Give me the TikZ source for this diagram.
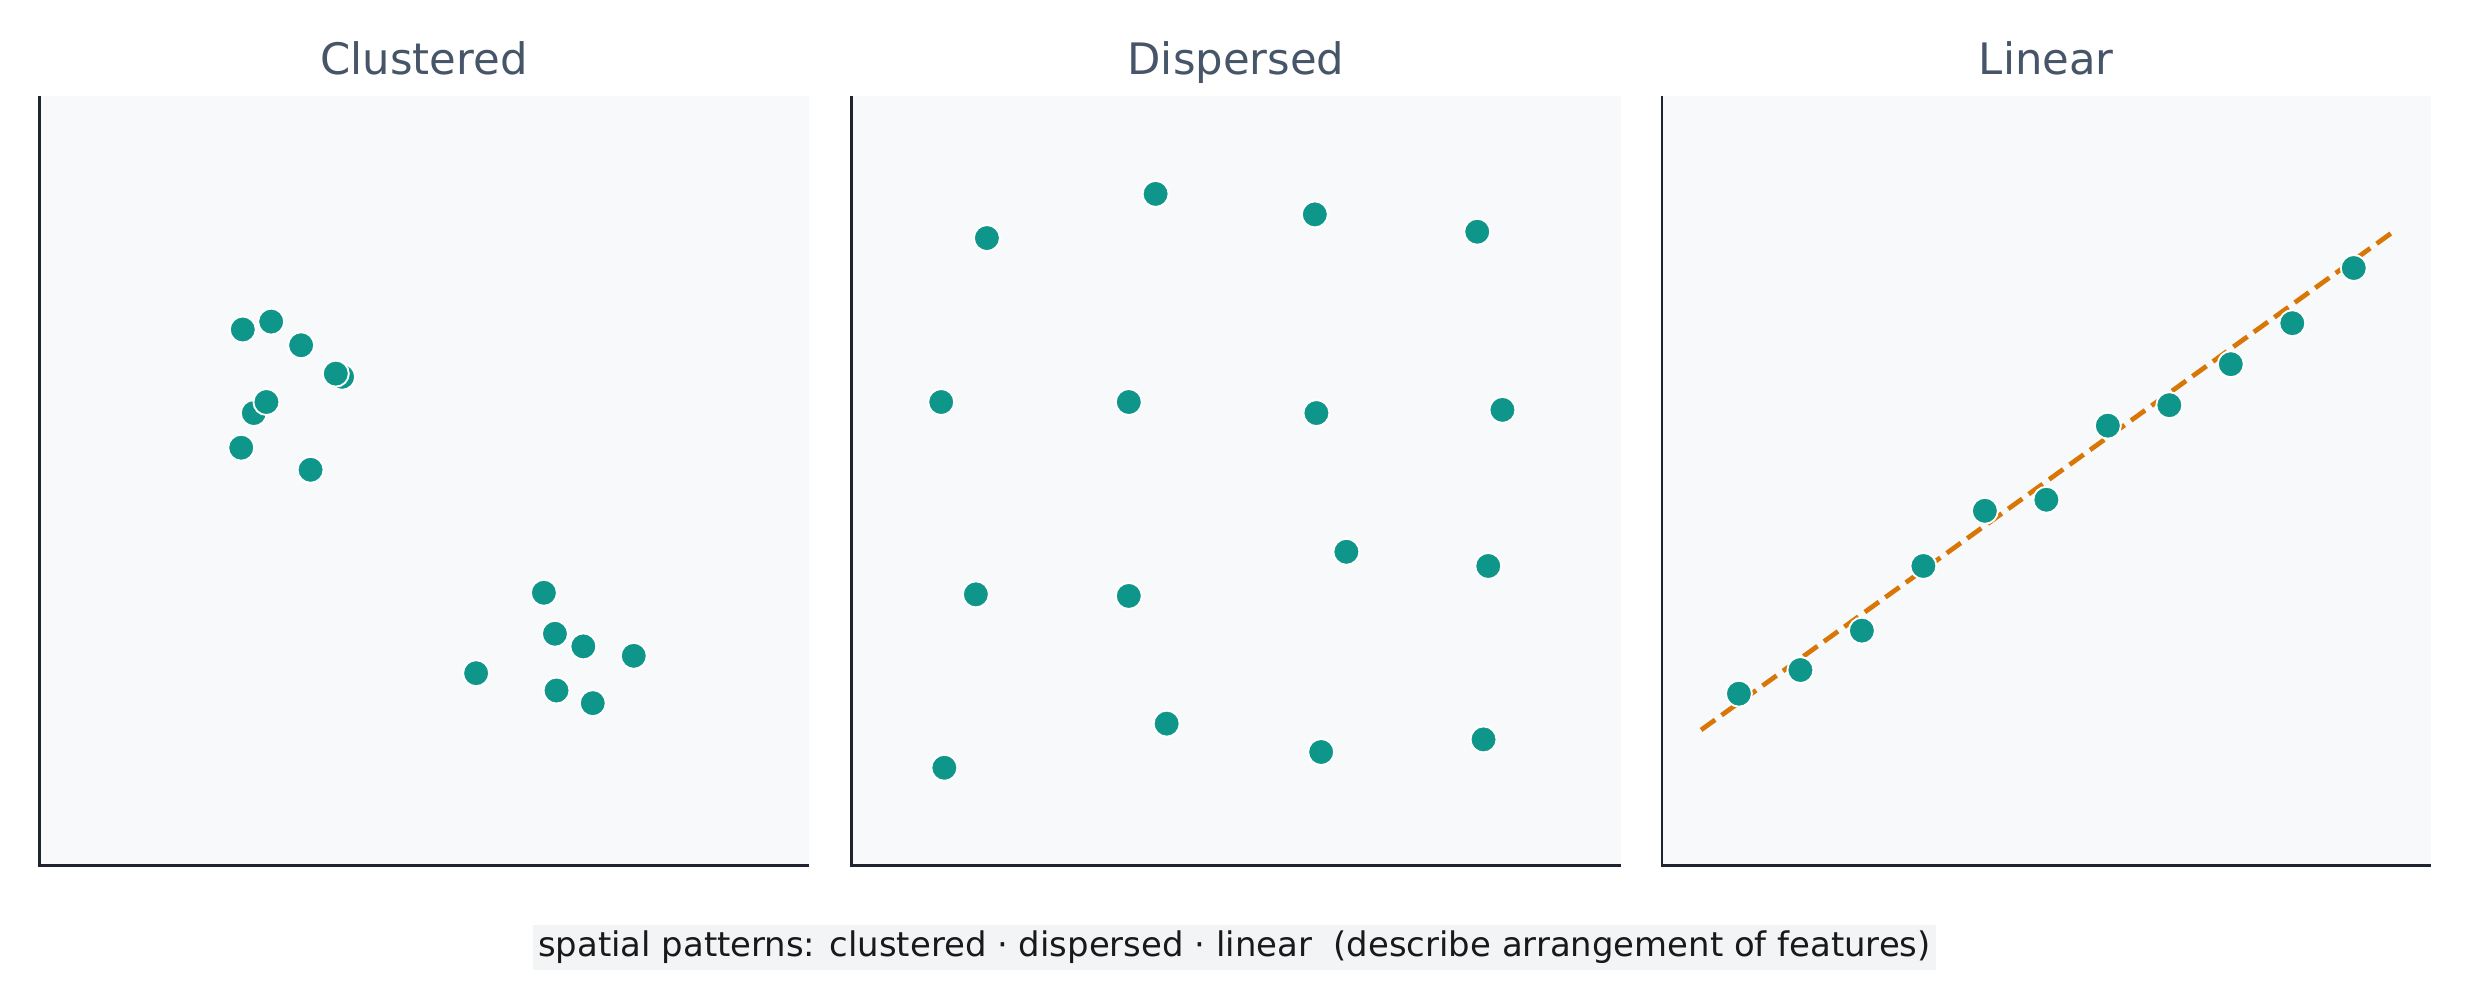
\documentclass[tikz,border=0pt]{standalone}
\usepackage{fontspec}
\setmainfont{DejaVu Sans}
\begin{document}
\begin{tikzpicture}[x=1pt,y=-1pt,
  panel/.style={fill=panelbg,draw=none},
  axis/.style={draw=axiscol,line width=1.5pt},
  dot/.style={circle,fill=teal1,draw=white,line width=1.2pt,minimum size=16.5pt,inner sep=0pt},
  ttl/.style={text=titlecol,font=\fontsize{27.5}{32}\selectfont,anchor=base},
  trend/.style={draw=orange1,line width=3pt,dash pattern=on 11pt off 5pt}]
\definecolor{panelbg}{HTML}{F8F9FB}
\definecolor{axiscol}{HTML}{1F2430}
\definecolor{teal1}{HTML}{0F968A}
\definecolor{titlecol}{HTML}{475569}
\definecolor{orange1}{HTML}{D97706}
\definecolor{capbg}{HTML}{F3F4F6}
\useasboundingbox[fill=white] (0,0) rectangle (1568,639);
\foreach \x/\t/\n in {25/Clustered/a,540/Dispersed/b,1054/Linear/c}{
  \fill[panel] (\x,61) rectangle (\x+488,549);
  \draw[axis] (\x,61) -- (\x,549) -- (\x+488,549);
  \node[ttl] (t\n) at (\x+244,47) {\t};
}
% clustered
\foreach \p/\q [count=\i] in {217/239,213/237,154/209,172/204,191/219,161/262,169/255,153/284,197/298,345/376,352/402,370/410,402/416,302/427,353/438,376/446}
  \node[dot] (c\i) at (\p,\q) {};
% dispersed
\foreach \p/\q [count=\i] in {626/151,733/123,834/136,937/147,597/255,716/255,835/262,953/260,619/377,716/378,854/350,944/359,599/487,740/459,838/477,941/469}
  \node[dot] (d\i) at (\p,\q) {};
% linear
\coordinate (ls) at (1079,463);
\coordinate (le) at (1518,147);
\draw[trend] (ls) -- (le);
\foreach \p/\q [count=\i] in {1103/440,1142/425,1181/400,1220/359,1259/324,1298/317,1337/270,1376/257,1415/231,1454/205,1493/170}
  \node[dot] (l\i) at (\p,\q) {};
\node[fill=capbg,inner xsep=3pt,inner ysep=4pt,font=\fontsize{21.5}{25}\selectfont,text=black!90] (cap) at (783,601)
  {spatial patterns: clustered · dispersed · linear \ (describe arrangement of features)};
\end{tikzpicture}
\end{document}
